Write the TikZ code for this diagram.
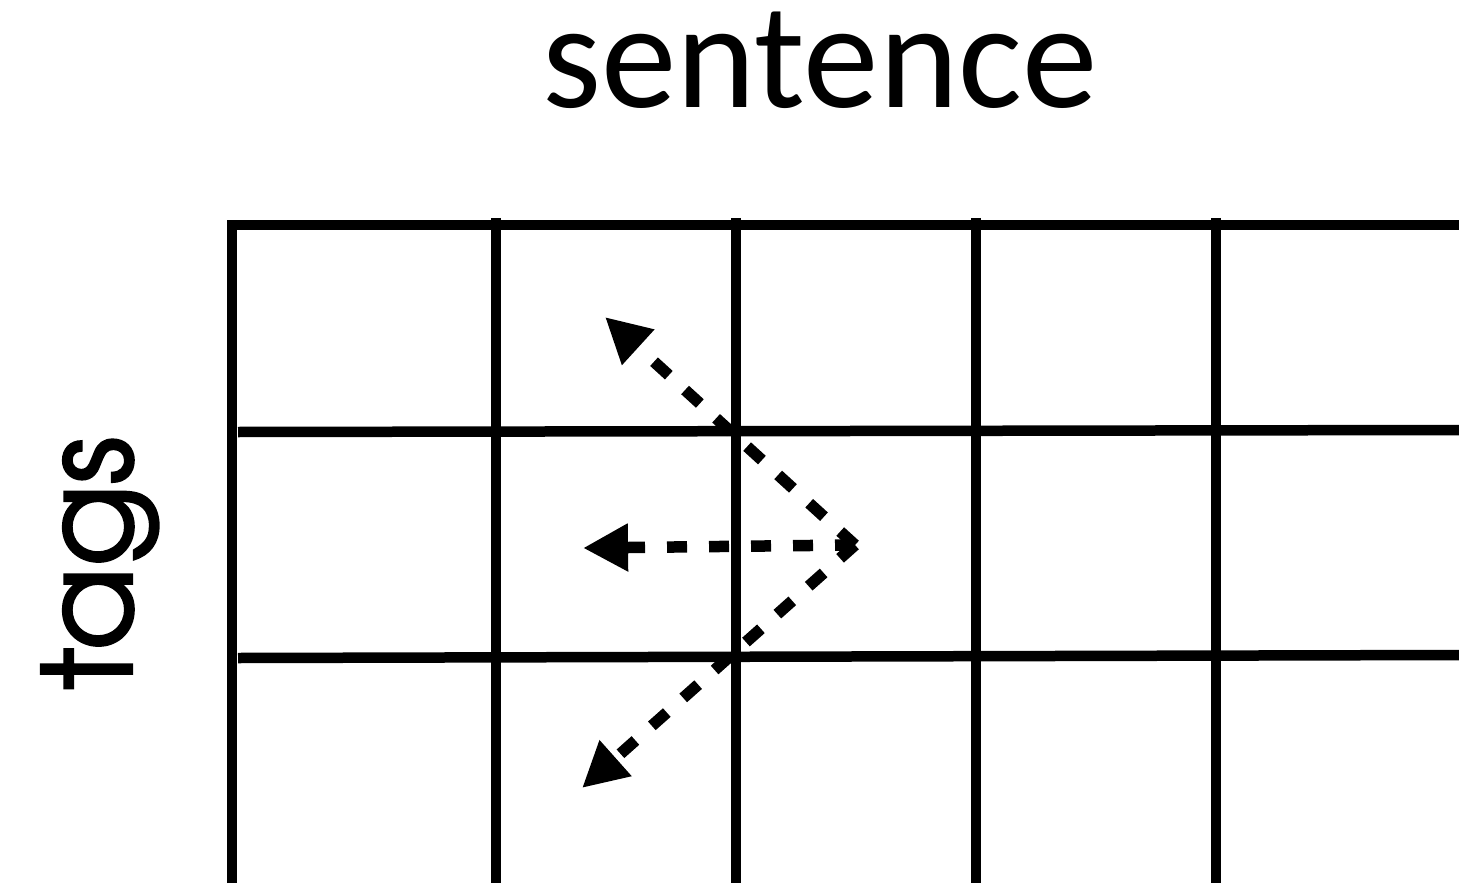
\documentclass[tikz,border=0pt]{standalone}
\usepackage{fontspec}
\setmainfont{Carlito}
\newfontfamily\tagsfont[FakeBold=2]{texgyreadventor-regular.otf}
\usetikzlibrary{arrows.meta}

\tikzset{
  gridline/.style={line width=0.105cm},
  hoparrow/.style={line width=0.115cm, dash pattern=on 0.2cm off 0.22cm,
    -{Triangle[length=0.45cm,width=0.45cm]}}
}

\begin{document}
\begin{tikzpicture}

\useasboundingbox (0,0) rectangle (14.59,8.83);

% Labels
\node[anchor=base, font=\fontsize{43}{50}\selectfont] (sentence) at (8.20,7.75) {sentence};
\node[anchor=base, rotate=90, font=\tagsfont\fontsize{35}{42}\selectfont] (tags) at (1.32,3.20) {tags};

% Outer left and top edges
\draw[gridline, line join=miter] (2.32,0) -- (2.32,6.58) -- (14.59,6.58);

% Columns
\draw[gridline] (4.96,6.65) -- (4.96,0);
\draw[gridline] (7.36,6.65) -- (7.36,0);
\draw[gridline] (9.76,6.65) -- (9.76,0);
\draw[gridline] (12.16,6.65) -- (12.16,0);

% Rows
\draw[gridline] (2.38,4.51) -- (14.59,4.53);
\draw[gridline] (2.38,2.25) -- (14.59,2.28);

% Transitions from the current cell
\coordinate (apex) at (8.55,3.38);
\coordinate (up) at (6.05,5.66);
\coordinate (same) at (5.83,3.35);
\coordinate (down) at (5.82,0.95);

\draw[hoparrow] (apex) -- (up);
\draw[hoparrow] (apex) -- (same);
\draw[hoparrow] (apex) -- (down);

\end{tikzpicture}
\end{document}
